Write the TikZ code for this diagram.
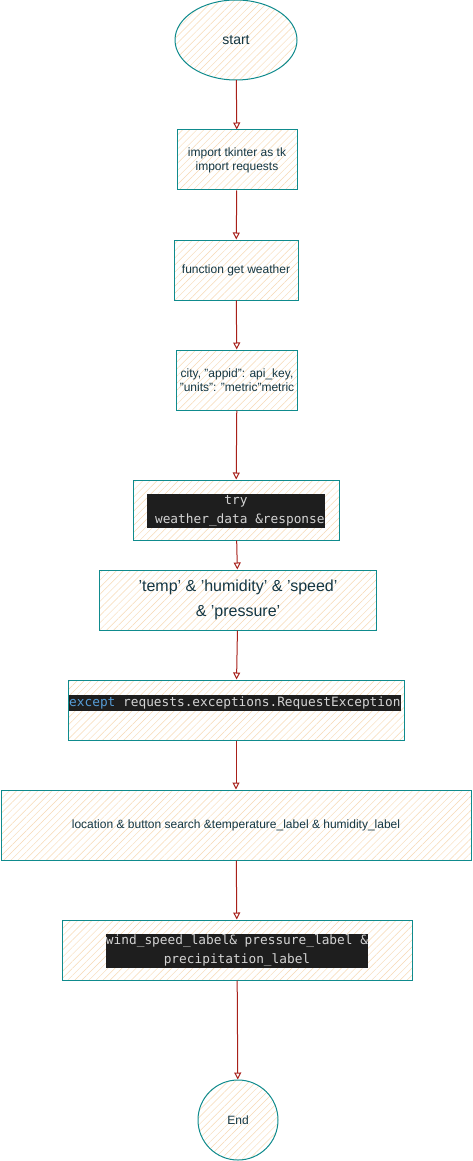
\documentclass[tikz,border=0pt]{standalone}
\usepackage{fontspec}
\setmainfont{Liberation Sans}
\setmonofont{DejaVu Sans Mono}
\usetikzlibrary{arrows.meta,patterns.meta,shapes.geometric}

\definecolor{rim}{HTML}{0F8B8D}
\definecolor{hatch}{HTML}{F7D9B4}
\definecolor{ink}{HTML}{143642}
\definecolor{wire}{HTML}{A8201A}
\definecolor{codebg}{HTML}{1E1E1E}
\definecolor{codefg}{HTML}{D4D4D4}
\definecolor{kw}{HTML}{569CD6}

\tikzset{
	sketch/.style={draw=rim, line width=1pt, text=ink,
		preaction={fill=white},
		pattern={Lines[angle=45,distance=5pt,line width=0.45pt]}, pattern color=hatch},
	box/.style={sketch, rectangle, minimum height=60pt, align=center,
		font=\fontsize{12}{14}\selectfont},
	code/.style={fill=codebg, text=codefg, inner xsep=0pt, inner ysep=1.5pt,
		align=center, font=\ttfamily\fontsize{12.8}{19}\selectfont},
	arr/.style={draw=wire, line width=1pt, -{Triangle[open,length=7pt,width=7pt]}}
}

\begin{document}
\begin{tikzpicture}[x=1pt, y=-1pt]
		\useasboundingbox (0, 0) rectangle (472, 1161);
		
		\node[sketch, ellipse, minimum width=122pt, minimum height=80pt,
			font=\fontsize{14}{16}\selectfont] (start) at (236, 40) {start};
		
		\node[box, minimum width=120pt] (b-1) at (237, 160) {import tkinter as tk\\import requests};
		\node[box, minimum width=124pt] (b-2) at (236, 270) {function get weather};
		\node[box, minimum width=120pt] (b-3) at (237, 380) {city, "appid": api\_key,\\"units": "metric"metric};
		
		\node[box, minimum width=206pt] (b-4) at (236, 510) {};
		\node[code] (c-4) at (236, 511) {try\\~weather\_data \&response};
		
		\node[box, minimum width=277pt, font=\fontsize{16}{25}\selectfont]
			(b-5) at (238, 600) {'temp' \& 'humidity' \& 'speed'\\\& 'pressure'};
		
		\node[box, minimum width=336pt] (b-6) at (236, 710) {};
		\node[code, anchor=west] (c-6) at (69, 703) {\textcolor{kw}{except} requests.exceptions.RequestException};
		
		\node[box, minimum width=470pt, minimum height=70pt]
			(b-7) at (236, 825) {location \& button search \&temperature\_label \& humidity\_label};
		
		\node[box, minimum width=350pt] (b-8) at (237, 950) {};
		\node[code] (c-8) at (237, 951) {wind\_speed\_label\& pressure\_label \&\\precipitation\_label};
		
		\node[sketch, circle, minimum size=80pt,
			font=\fontsize{12}{14}\selectfont] (end) at (238, 1120) {End};
		
		
		\path [arr] (start) edge (b-1);
		\path [arr] (b-1) edge (b-2);
		\path [arr] (b-2) edge (b-3);
		\path [arr] (b-3) edge (b-4);
		\path [arr] (b-4) edge (b-5);
		\path [arr] (b-5) edge (b-6);
		\path [arr] (b-6) edge (b-7);
		\path [arr] (b-7) edge (b-8);
		\path [arr] (b-8) edge (end);
		
\end{tikzpicture}
\end{document}
